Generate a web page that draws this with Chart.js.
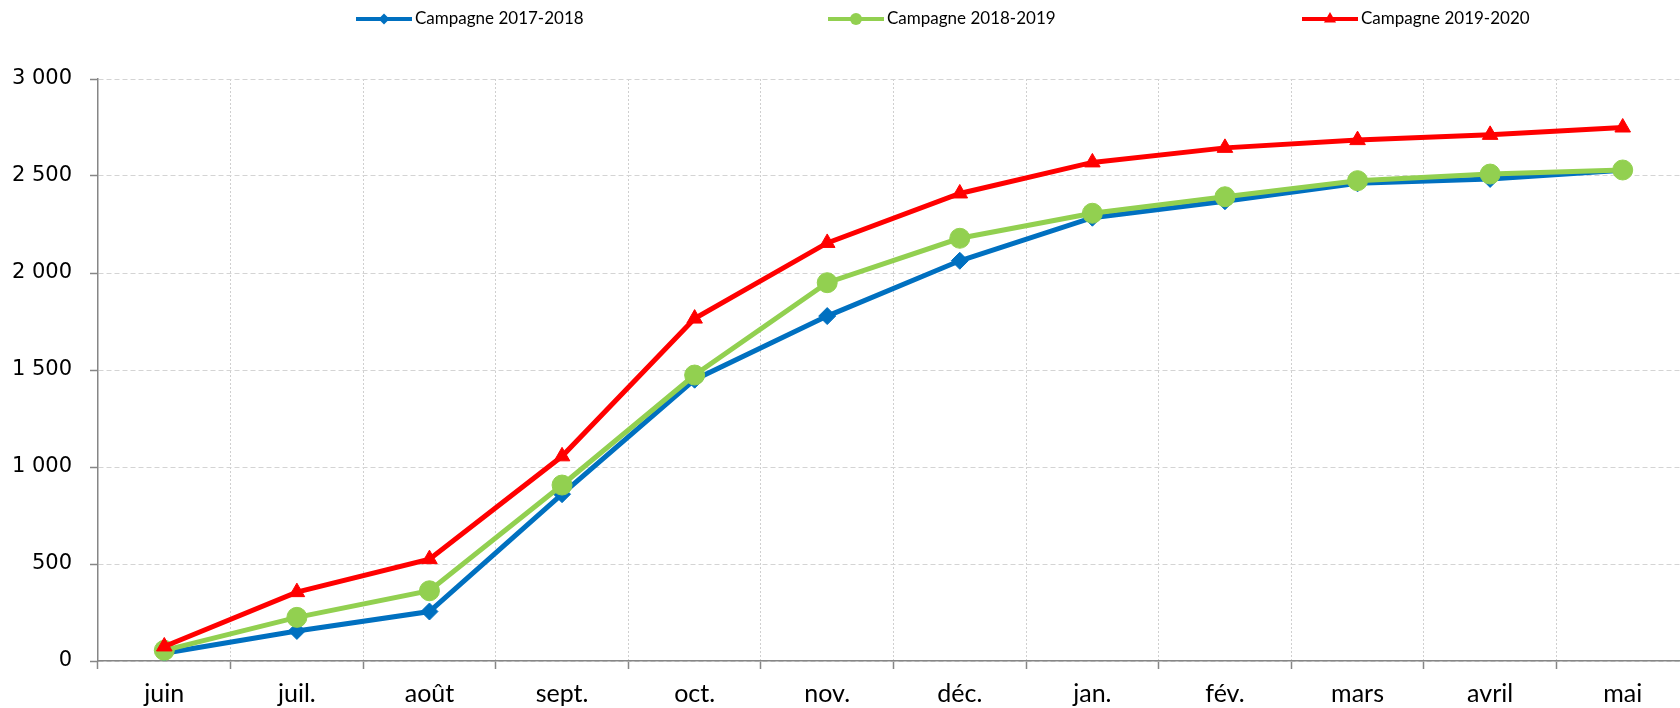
<!DOCTYPE html>
<html>
<head>
    <meta charset="utf-8">
    <title>Campagnes 2017-2020</title>
    <script src="https://cdn.jsdelivr.net/npm/chart.js"></script>
    <style>
        html, body {
            margin: 0;
            padding: 0;
            background: #ffffff;
            overflow: hidden;
        }
        .chart-wrap {
            position: relative;
            width: 1700px;
            height: 720px;
        }
    </style>
</head>
<body>
    <div class="chart-wrap">
        <canvas id="campagneChart"></canvas>
    </div>

    <script>
        // Data
        const months = ['juin', 'juil.', 'août', 'sept.', 'oct.', 'nov.', 'déc.', 'jan.', 'fév.', 'mars', 'avril', 'mai'];
        const seriesNames = ['Campagne 2017-2018', 'Campagne 2018-2019', 'Campagne 2019-2020'];
        const campagne1718 = [40, 155, 255, 860, 1450, 1778, 2063, 2285, 2370, 2462, 2485, 2530];
        const campagne1819 = [55, 225, 362, 907, 1474, 1950, 2179, 2308, 2393, 2476, 2510, 2531];
        const campagne1920 = [75, 355, 525, 1055, 1765, 2155, 2410, 2570, 2645, 2685, 2712, 2750];
        const yTicks = [0, 500, 1000, 1500, 2000, 2500, 3000];

        const colors = ['#0070C0', '#92D050', '#FF0000'];
        const legendX = [356, 828, 1302];

        function formatThousands(v) {
            return String(v).replace(/\B(?=(\d{3})+(?!\d))/g, ' ');
        }

        // legend drawn by hand: three items spread across the top
        const topLegend = {
            id: 'topLegend',
            afterDraw(chart) {
                const ctx = chart.ctx;
                const y = 19;
                ctx.save();
                chart.data.datasets.forEach((ds, i) => {
                    const x0 = legendX[i];
                    ctx.strokeStyle = ds.borderColor;
                    ctx.lineWidth = 4;
                    ctx.beginPath();
                    ctx.moveTo(x0, y);
                    ctx.lineTo(x0 + 56, y);
                    ctx.stroke();

                    const cx = x0 + 28;
                    ctx.fillStyle = ds.borderColor;
                    ctx.beginPath();
                    if (ds.pointStyle === 'rectRot') {
                        const r = 5.5;
                        ctx.moveTo(cx - r, y); ctx.lineTo(cx, y - r);
                        ctx.lineTo(cx + r, y); ctx.lineTo(cx, y + r);
                    } else if (ds.pointStyle === 'circle') {
                        ctx.arc(cx, y, 6, 0, Math.PI * 2);
                    } else {
                        const r = 7;
                        ctx.moveTo(cx, y - r);
                        ctx.lineTo(cx + r * 0.866, y + r / 2);
                        ctx.lineTo(cx - r * 0.866, y + r / 2);
                    }
                    ctx.closePath();
                    ctx.fill();

                    ctx.fillStyle = '#000';
                    ctx.font = '17px Lato, "Open Sans", sans-serif';
                    ctx.textBaseline = 'middle';
                    ctx.textAlign = 'left';
                    ctx.fillText(ds.label, x0 + 59, y);
                });
                ctx.restore();
            }
        };

        new Chart(document.getElementById('campagneChart'), {
            type: 'line',
            data: {
                labels: months,
                datasets: [
                    {
                        label: seriesNames[0],
                        data: campagne1718,
                        borderColor: colors[0],
                        backgroundColor: colors[0],
                        borderWidth: 5,
                        pointStyle: 'rectRot',
                        pointRadius: 8.5,
                        pointBorderWidth: 1,
                        order: 3
                    },
                    {
                        label: seriesNames[1],
                        data: campagne1819,
                        borderColor: colors[1],
                        backgroundColor: colors[1],
                        borderWidth: 5,
                        pointStyle: 'circle',
                        pointRadius: 10,
                        pointBorderWidth: 1,
                        order: 2
                    },
                    {
                        label: seriesNames[2],
                        data: campagne1920,
                        borderColor: colors[2],
                        backgroundColor: colors[2],
                        borderWidth: 5,
                        pointStyle: 'triangle',
                        pointRadius: 9,
                        pointBorderWidth: 1,
                        order: 1
                    }
                ]
            },
            options: {
                responsive: true,
                maintainAspectRatio: false,
                animation: false,
                layout: {
                    padding: { top: 79, left: 0, right: 8.7, bottom: 0 }
                },
                plugins: {
                    legend: { display: false },
                    tooltip: { enabled: false }
                },
                elements: {
                    line: { tension: 0 }
                },
                scales: {
                    x: {
                        offset: true,
                        afterFit(scale) { scale.height = 59; },
                        grid: {
                            offset: true,
                            color: '#cfcfcf',
                            lineWidth: 1,
                            tickLength: 8,
                            tickColor: '#868686',
                            tickWidth: 1.5
                        },
                        border: {
                            color: '#868686',
                            width: 1.5,
                            dash: [2, 2]
                        },
                        ticks: {
                            padding: 10,
                            color: '#000',
                            maxRotation: 0,
                            autoSkip: false,
                            font: { family: 'Lato, "Open Sans", sans-serif', size: 25 }
                        }
                    },
                    y: {
                        min: 0,
                        max: 3000,
                        afterFit(scale) { scale.width = 98; },
                        afterBuildTicks(scale) {
                            scale.ticks = yTicks.map(v => ({ value: v }));
                        },
                        grid: {
                            color: '#d4d4d4',
                            lineWidth: 1,
                            tickLength: 8,
                            tickColor: '#868686',
                            tickWidth: 1.5
                        },
                        border: {
                            color: '#868686',
                            width: 1.5,
                            dash: [5, 3]
                        },
                        ticks: {
                            padding: 18,
                            color: '#000',
                            font: { family: '"DejaVu Sans", Verdana, sans-serif', size: 21 },
                            callback: v => formatThousands(v)
                        }
                    }
                }
            },
            plugins: [topLegend]
        });
    </script>
</body>
</html>
